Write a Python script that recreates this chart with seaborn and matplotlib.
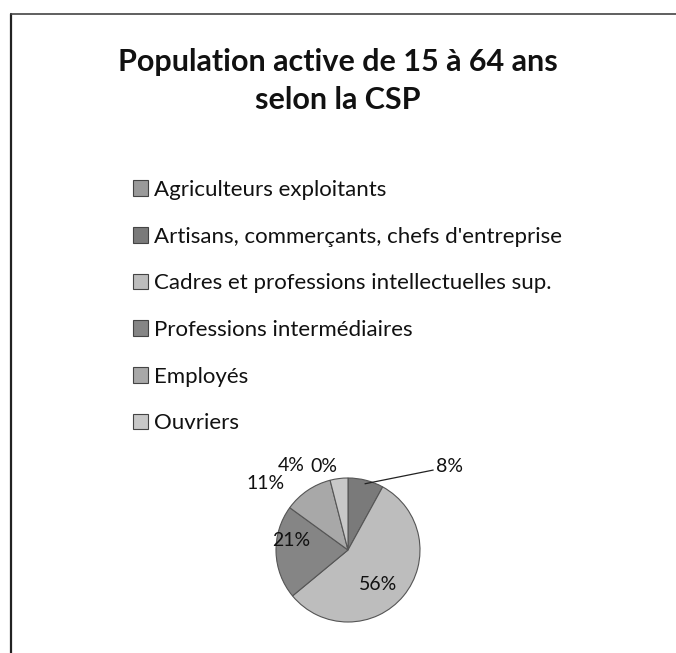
import matplotlib
matplotlib.use("Agg")
import matplotlib.pyplot as plt
import seaborn as sns
from matplotlib.patches import Rectangle
import numpy as np

categories = [
    "Agriculteurs exploitants",
    "Artisans, commerçants, chefs d'entreprise",
    "Cadres et professions intellectuelles sup.",
    "Professions intermédiaires",
    "Employés",
    "Ouvriers",
]
values = [0, 8, 56, 21, 11, 4]
pct_labels = ["0%", "8%", "56%", "21%", "11%", "4%"]
title = "Population active de 15 à 64 ans\nselon la CSP"

colors = ["#9a9a9a", "#7a7a7a", "#bdbdbd", "#858585", "#a8a8a8", "#c8c8c8"]
# label placement style: (radius factor, angle in degrees) relative to pie center
label_style = [(1.2, 106), (1.8, 40), (0.64, -49), (0.8, 171), (1.47, 141), (1.42, 124)]
leader = [False, True, False, False, False, False]

sns.set_theme(style="white")
plt.rcParams["font.family"] = ["Lato", "DejaVu Sans"]

W, H = 676, 653
fig = plt.figure(figsize=(W / 100, H / 100), dpi=100)
fig.patch.set_facecolor("white")

# frame (left + top border)
fig.add_artist(plt.Line2D([11 / W, 11 / W], [0, 1 - 14 / H], color="#222222", lw=1.6))
fig.add_artist(plt.Line2D([11 / W, 1], [1 - 14 / H, 1 - 14 / H], color="#444444", lw=1.2))

fig.text(0.5, 1 - 81 / H, title, ha="center", va="center", fontsize=22,
         fontweight="bold", color="#111111", linespacing=1.42)

# pie
cx, cy, R = 348, 550, 72
ax = fig.add_axes([(cx - R) / W, 1 - (cy + R) / H, 2 * R / W, 2 * R / H])
wedges, _ = ax.pie(values, colors=colors, startangle=90, counterclock=False,
                   wedgeprops=dict(edgecolor="#555555", linewidth=0.8))
ax.set_aspect("equal")
ax.set_xlim(-1, 1)
ax.set_ylim(-1, 1)
ax.axis("off")

for w, lab, (rf, ang), ld in zip(wedges, pct_labels, label_style, leader):
    a = np.deg2rad(ang)
    x, y = rf * np.cos(a), rf * np.sin(a)
    if ld:
        mid = np.deg2rad((w.theta1 + w.theta2) / 2)
        ax.annotate(lab, xy=(0.95 * np.cos(mid), 0.95 * np.sin(mid)), xytext=(x - 0.15, y),
                    ha="left", va="center", fontsize=14, color="#111111",
                    arrowprops=dict(arrowstyle="-", color="#222222", lw=0.9,
                                    shrinkA=0, shrinkB=0),
                    annotation_clip=False)
    else:
        ax.text(x, y, lab, ha="center", va="center", fontsize=14, color="#111111")

# legend
handles = [Rectangle((0, 0), 1, 1, facecolor=c, edgecolor="#444444", lw=0.8) for c in colors]
leg = fig.legend(handles, categories, loc="upper left",
                 bbox_to_anchor=(124 / W, 1 - 171 / H), frameon=False,
                 fontsize=16, handlelength=0.7, handleheight=0.7, handletextpad=0.25,
                 labelspacing=1.2, borderaxespad=0)
for t in leg.get_texts():
    t.set_color("#111111")

fig.savefig("out.png", dpi=100, facecolor="white")
